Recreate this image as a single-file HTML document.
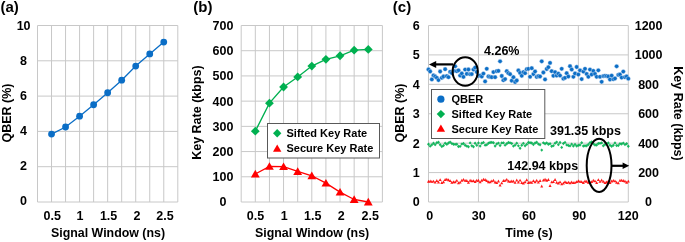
<!DOCTYPE html>
<html><head><meta charset="utf-8"><style>
html,body{margin:0;padding:0;background:#fff;}
body{width:685px;height:242px;overflow:hidden;}
svg{display:block;will-change:transform;}
svg text{font-family:"Liberation Sans",sans-serif;font-weight:bold;fill:#000;}
</style></head><body>
<svg width="685" height="242" viewBox="0 0 685 242">
<rect width="685" height="242" fill="#fff"/>
<line x1="37.50" y1="25.50" x2="37.50" y2="202.00" stroke="#c8c8c8" stroke-width="1"/>
<line x1="51.53" y1="25.50" x2="51.53" y2="202.00" stroke="#c8c8c8" stroke-width="1"/>
<line x1="65.56" y1="25.50" x2="65.56" y2="202.00" stroke="#c8c8c8" stroke-width="1"/>
<line x1="79.59" y1="25.50" x2="79.59" y2="202.00" stroke="#c8c8c8" stroke-width="1"/>
<line x1="93.62" y1="25.50" x2="93.62" y2="202.00" stroke="#c8c8c8" stroke-width="1"/>
<line x1="107.65" y1="25.50" x2="107.65" y2="202.00" stroke="#c8c8c8" stroke-width="1"/>
<line x1="121.68" y1="25.50" x2="121.68" y2="202.00" stroke="#c8c8c8" stroke-width="1"/>
<line x1="135.71" y1="25.50" x2="135.71" y2="202.00" stroke="#c8c8c8" stroke-width="1"/>
<line x1="149.74" y1="25.50" x2="149.74" y2="202.00" stroke="#c8c8c8" stroke-width="1"/>
<line x1="163.77" y1="25.50" x2="163.77" y2="202.00" stroke="#c8c8c8" stroke-width="1"/>
<line x1="177.80" y1="25.50" x2="177.80" y2="202.00" stroke="#c8c8c8" stroke-width="1"/>
<line x1="37.50" y1="202.00" x2="177.80" y2="202.00" stroke="#c8c8c8" stroke-width="1"/>
<line x1="37.50" y1="166.70" x2="177.80" y2="166.70" stroke="#c8c8c8" stroke-width="1"/>
<line x1="37.50" y1="131.40" x2="177.80" y2="131.40" stroke="#c8c8c8" stroke-width="1"/>
<line x1="37.50" y1="96.10" x2="177.80" y2="96.10" stroke="#c8c8c8" stroke-width="1"/>
<line x1="37.50" y1="60.80" x2="177.80" y2="60.80" stroke="#c8c8c8" stroke-width="1"/>
<line x1="37.50" y1="25.50" x2="177.80" y2="25.50" stroke="#c8c8c8" stroke-width="1"/>
<polyline fill="none" stroke="#0b6ec6" stroke-width="1.3" points="51.53,134.05 65.56,126.99 79.59,116.22 93.62,104.75 107.65,92.75 121.68,80.21 135.71,66.09 149.74,53.92 163.77,42.09"/>
<circle cx="51.53" cy="134.05" r="3.4" fill="#0b6ec6"/>
<circle cx="65.56" cy="126.99" r="3.4" fill="#0b6ec6"/>
<circle cx="79.59" cy="116.22" r="3.4" fill="#0b6ec6"/>
<circle cx="93.62" cy="104.75" r="3.4" fill="#0b6ec6"/>
<circle cx="107.65" cy="92.75" r="3.4" fill="#0b6ec6"/>
<circle cx="121.68" cy="80.21" r="3.4" fill="#0b6ec6"/>
<circle cx="135.71" cy="66.09" r="3.4" fill="#0b6ec6"/>
<circle cx="149.74" cy="53.92" r="3.4" fill="#0b6ec6"/>
<circle cx="163.77" cy="42.09" r="3.4" fill="#0b6ec6"/>
<text x="23.60" y="205.24" font-size="12.5" text-anchor="middle" >0</text>
<text x="23.60" y="170.20" font-size="12.5" text-anchor="middle" >2</text>
<text x="23.60" y="135.16" font-size="12.5" text-anchor="middle" >4</text>
<text x="23.60" y="100.12" font-size="12.5" text-anchor="middle" >6</text>
<text x="23.60" y="65.08" font-size="12.5" text-anchor="middle" >8</text>
<text x="23.60" y="30.04" font-size="12.5" text-anchor="middle" >10</text>
<text x="52.30" y="220.00" font-size="12.5" text-anchor="middle" >0.5</text>
<text x="80.10" y="220.00" font-size="12.5" text-anchor="middle" >1</text>
<text x="108.60" y="220.00" font-size="12.5" text-anchor="middle" >1.5</text>
<text x="137.00" y="220.00" font-size="12.5" text-anchor="middle" >2</text>
<text x="165.00" y="220.00" font-size="12.5" text-anchor="middle" >2.5</text>
<text x="108.00" y="237.30" font-size="12.4" text-anchor="middle" >Signal Window (ns)</text>
<text transform="translate(11.2,113) rotate(-90)" font-size="12.5" text-anchor="middle">QBER (%)</text>
<text x="0.45" y="11.75" font-size="15" text-anchor="start" >(a)</text>
<line x1="241.20" y1="25.50" x2="241.20" y2="202.00" stroke="#c8c8c8" stroke-width="1"/>
<line x1="255.32" y1="25.50" x2="255.32" y2="202.00" stroke="#c8c8c8" stroke-width="1"/>
<line x1="269.44" y1="25.50" x2="269.44" y2="202.00" stroke="#c8c8c8" stroke-width="1"/>
<line x1="283.56" y1="25.50" x2="283.56" y2="202.00" stroke="#c8c8c8" stroke-width="1"/>
<line x1="297.68" y1="25.50" x2="297.68" y2="202.00" stroke="#c8c8c8" stroke-width="1"/>
<line x1="311.80" y1="25.50" x2="311.80" y2="202.00" stroke="#c8c8c8" stroke-width="1"/>
<line x1="325.92" y1="25.50" x2="325.92" y2="202.00" stroke="#c8c8c8" stroke-width="1"/>
<line x1="340.04" y1="25.50" x2="340.04" y2="202.00" stroke="#c8c8c8" stroke-width="1"/>
<line x1="354.16" y1="25.50" x2="354.16" y2="202.00" stroke="#c8c8c8" stroke-width="1"/>
<line x1="368.28" y1="25.50" x2="368.28" y2="202.00" stroke="#c8c8c8" stroke-width="1"/>
<line x1="382.40" y1="25.50" x2="382.40" y2="202.00" stroke="#c8c8c8" stroke-width="1"/>
<line x1="241.20" y1="202.00" x2="382.40" y2="202.00" stroke="#c8c8c8" stroke-width="1"/>
<line x1="241.20" y1="176.79" x2="382.40" y2="176.79" stroke="#c8c8c8" stroke-width="1"/>
<line x1="241.20" y1="151.57" x2="382.40" y2="151.57" stroke="#c8c8c8" stroke-width="1"/>
<line x1="241.20" y1="126.36" x2="382.40" y2="126.36" stroke="#c8c8c8" stroke-width="1"/>
<line x1="241.20" y1="101.14" x2="382.40" y2="101.14" stroke="#c8c8c8" stroke-width="1"/>
<line x1="241.20" y1="75.93" x2="382.40" y2="75.93" stroke="#c8c8c8" stroke-width="1"/>
<line x1="241.20" y1="50.71" x2="382.40" y2="50.71" stroke="#c8c8c8" stroke-width="1"/>
<line x1="241.20" y1="25.50" x2="382.40" y2="25.50" stroke="#c8c8c8" stroke-width="1"/>
<polyline fill="none" stroke="#00b050" stroke-width="1.3" points="255.32,131.15 269.44,103.16 283.56,87.02 297.68,76.94 311.80,66.09 325.92,59.29 340.04,55.76 354.16,50.21 368.28,49.45"/>
<polygon points="255.32,126.75 259.72,131.15 255.32,135.55 250.92,131.15" fill="#00b050"/>
<polygon points="269.44,98.76 273.84,103.16 269.44,107.56 265.04,103.16" fill="#00b050"/>
<polygon points="283.56,82.62 287.96,87.02 283.56,91.42 279.16,87.02" fill="#00b050"/>
<polygon points="297.68,72.54 302.08,76.94 297.68,81.34 293.28,76.94" fill="#00b050"/>
<polygon points="311.80,61.70 316.20,66.09 311.80,70.50 307.40,66.09" fill="#00b050"/>
<polygon points="325.92,54.89 330.32,59.29 325.92,63.69 321.52,59.29" fill="#00b050"/>
<polygon points="340.04,51.36 344.44,55.76 340.04,60.16 335.64,55.76" fill="#00b050"/>
<polygon points="354.16,45.81 358.56,50.21 354.16,54.61 349.76,50.21" fill="#00b050"/>
<polygon points="368.28,45.05 372.68,49.45 368.28,53.85 363.88,49.45" fill="#00b050"/>
<polyline fill="none" stroke="#ff0000" stroke-width="1.3" points="255.32,174.01 269.44,166.45 283.56,166.70 297.68,171.49 311.80,175.78 325.92,183.09 340.04,192.17 354.16,199.48 368.28,202.00"/>
<polygon points="255.32,169.81 259.72,177.41 250.92,177.41" fill="#ff0000"/>
<polygon points="269.44,162.25 273.84,169.85 265.04,169.85" fill="#ff0000"/>
<polygon points="283.56,162.50 287.96,170.10 279.16,170.10" fill="#ff0000"/>
<polygon points="297.68,167.29 302.08,174.89 293.28,174.89" fill="#ff0000"/>
<polygon points="311.80,171.58 316.20,179.18 307.40,179.18" fill="#ff0000"/>
<polygon points="325.92,178.89 330.32,186.49 321.52,186.49" fill="#ff0000"/>
<polygon points="340.04,187.97 344.44,195.57 335.64,195.57" fill="#ff0000"/>
<polygon points="354.16,195.28 358.56,202.88 349.76,202.88" fill="#ff0000"/>
<polygon points="368.28,197.80 372.68,205.40 363.88,205.40" fill="#ff0000"/>
<text x="223.00" y="206.40" font-size="12.5" text-anchor="middle" >0</text>
<text x="223.00" y="181.19" font-size="12.5" text-anchor="middle" >100</text>
<text x="223.00" y="155.97" font-size="12.5" text-anchor="middle" >200</text>
<text x="223.00" y="130.76" font-size="12.5" text-anchor="middle" >300</text>
<text x="223.00" y="105.54" font-size="12.5" text-anchor="middle" >400</text>
<text x="223.00" y="80.33" font-size="12.5" text-anchor="middle" >500</text>
<text x="223.00" y="55.11" font-size="12.5" text-anchor="middle" >600</text>
<text x="223.00" y="29.90" font-size="12.5" text-anchor="middle" >700</text>
<text x="255.50" y="220.00" font-size="12.5" text-anchor="middle" >0.5</text>
<text x="284.30" y="220.00" font-size="12.5" text-anchor="middle" >1</text>
<text x="312.80" y="220.00" font-size="12.5" text-anchor="middle" >1.5</text>
<text x="341.30" y="220.00" font-size="12.5" text-anchor="middle" >2</text>
<text x="370.30" y="220.00" font-size="12.5" text-anchor="middle" >2.5</text>
<text x="312.10" y="237.30" font-size="12.4" text-anchor="middle" >Signal Window (ns)</text>
<text transform="translate(200.7,112.6) rotate(-90)" font-size="12.5" text-anchor="middle">Key Rate (kbps)</text>
<text x="193.35" y="11.75" font-size="15" text-anchor="start" >(b)</text>
<rect x="267.5" y="123.5" width="112" height="34.5" fill="#fff" stroke="#595959" stroke-width="1"/>
<polygon points="277.20,129.00 281.40,133.20 277.20,137.40 273.00,133.20" fill="#00b050"/>
<polygon points="277.20,144.50 281.40,151.80 273.00,151.80" fill="#ff0000"/>
<text x="286.50" y="137.10" font-size="11" text-anchor="start" >Sifted Key Rate</text>
<text x="286.50" y="152.30" font-size="11" text-anchor="start" >Secure Key Rate</text>
<line x1="428.50" y1="25.50" x2="428.50" y2="202.00" stroke="#c8c8c8" stroke-width="1"/>
<line x1="478.45" y1="25.50" x2="478.45" y2="202.00" stroke="#c8c8c8" stroke-width="1"/>
<line x1="528.40" y1="25.50" x2="528.40" y2="202.00" stroke="#c8c8c8" stroke-width="1"/>
<line x1="578.35" y1="25.50" x2="578.35" y2="202.00" stroke="#c8c8c8" stroke-width="1"/>
<line x1="628.30" y1="25.50" x2="628.30" y2="202.00" stroke="#c8c8c8" stroke-width="1"/>
<line x1="428.50" y1="202.00" x2="628.30" y2="202.00" stroke="#c8c8c8" stroke-width="1"/>
<line x1="428.50" y1="172.58" x2="628.30" y2="172.58" stroke="#c8c8c8" stroke-width="1"/>
<line x1="428.50" y1="143.17" x2="628.30" y2="143.17" stroke="#c8c8c8" stroke-width="1"/>
<line x1="428.50" y1="113.75" x2="628.30" y2="113.75" stroke="#c8c8c8" stroke-width="1"/>
<line x1="428.50" y1="84.33" x2="628.30" y2="84.33" stroke="#c8c8c8" stroke-width="1"/>
<line x1="428.50" y1="54.92" x2="628.30" y2="54.92" stroke="#c8c8c8" stroke-width="1"/>
<line x1="428.50" y1="25.50" x2="628.30" y2="25.50" stroke="#c8c8c8" stroke-width="1"/>
<text x="416.30" y="206.40" font-size="12.5" text-anchor="middle" >0</text>
<text x="648.60" y="206.40" font-size="12.5" text-anchor="middle" >0</text>
<text x="416.30" y="176.98" font-size="12.5" text-anchor="middle" >1</text>
<text x="648.60" y="176.98" font-size="12.5" text-anchor="middle" >200</text>
<text x="416.30" y="147.57" font-size="12.5" text-anchor="middle" >2</text>
<text x="648.60" y="147.57" font-size="12.5" text-anchor="middle" >400</text>
<text x="416.30" y="118.15" font-size="12.5" text-anchor="middle" >3</text>
<text x="648.60" y="118.15" font-size="12.5" text-anchor="middle" >600</text>
<text x="416.30" y="88.73" font-size="12.5" text-anchor="middle" >4</text>
<text x="648.60" y="88.73" font-size="12.5" text-anchor="middle" >800</text>
<text x="416.30" y="59.32" font-size="12.5" text-anchor="middle" >5</text>
<text x="648.60" y="59.32" font-size="12.5" text-anchor="middle" >1000</text>
<text x="416.30" y="29.90" font-size="12.5" text-anchor="middle" >6</text>
<text x="648.60" y="29.90" font-size="12.5" text-anchor="middle" >1200</text>
<text x="429.80" y="220.00" font-size="12.5" text-anchor="middle" >0</text>
<text x="478.70" y="220.00" font-size="12.5" text-anchor="middle" >30</text>
<text x="528.90" y="220.00" font-size="12.5" text-anchor="middle" >60</text>
<text x="579.30" y="220.00" font-size="12.5" text-anchor="middle" >90</text>
<text x="628.30" y="220.00" font-size="12.5" text-anchor="middle" >120</text>
<text x="529.00" y="237.30" font-size="12.4" text-anchor="middle" >Time (s)</text>
<text transform="translate(403.5,113) rotate(-90)" font-size="12.5" text-anchor="middle">QBER (%)</text>
<text transform="translate(673.5,113.5) rotate(90)" font-size="12.5" text-anchor="middle">Key Rate (kbps)</text>
<text x="392.85" y="11.75" font-size="15" text-anchor="start" >(c)</text>
<polygon points="428.50,142.50 430.00,144.20 428.50,145.90 427.00,144.20" fill="#00b050" fill-opacity="0.9"/>
<polygon points="430.17,144.43 431.67,146.13 430.17,147.83 428.67,146.13" fill="#00b050" fill-opacity="0.9"/>
<polygon points="431.83,143.17 433.33,144.87 431.83,146.57 430.33,144.87" fill="#00b050" fill-opacity="0.9"/>
<polygon points="433.50,141.49 435.00,143.19 433.50,144.89 432.00,143.19" fill="#00b050" fill-opacity="0.9"/>
<polygon points="435.16,142.94 436.66,144.64 435.16,146.34 433.66,144.64" fill="#00b050" fill-opacity="0.9"/>
<polygon points="436.82,141.06 438.32,142.76 436.82,144.46 435.32,142.76" fill="#00b050" fill-opacity="0.9"/>
<polygon points="438.49,140.57 439.99,142.27 438.49,143.97 436.99,142.27" fill="#00b050" fill-opacity="0.9"/>
<polygon points="440.15,142.98 441.65,144.68 440.15,146.38 438.65,144.68" fill="#00b050" fill-opacity="0.9"/>
<polygon points="441.82,144.80 443.32,146.50 441.82,148.20 440.32,146.50" fill="#00b050" fill-opacity="0.9"/>
<polygon points="443.49,143.87 444.99,145.57 443.49,147.27 441.99,145.57" fill="#00b050" fill-opacity="0.9"/>
<polygon points="445.15,141.55 446.65,143.25 445.15,144.95 443.65,143.25" fill="#00b050" fill-opacity="0.9"/>
<polygon points="446.81,142.53 448.31,144.23 446.81,145.93 445.31,144.23" fill="#00b050" fill-opacity="0.9"/>
<polygon points="448.48,141.36 449.98,143.06 448.48,144.76 446.98,143.06" fill="#00b050" fill-opacity="0.9"/>
<polygon points="450.14,140.39 451.64,142.09 450.14,143.79 448.64,142.09" fill="#00b050" fill-opacity="0.9"/>
<polygon points="451.81,141.87 453.31,143.57 451.81,145.27 450.31,143.57" fill="#00b050" fill-opacity="0.9"/>
<polygon points="453.47,142.57 454.97,144.27 453.47,145.97 451.97,144.27" fill="#00b050" fill-opacity="0.9"/>
<polygon points="455.14,142.67 456.64,144.37 455.14,146.07 453.64,144.37" fill="#00b050" fill-opacity="0.9"/>
<polygon points="456.81,142.51 458.31,144.21 456.81,145.91 455.31,144.21" fill="#00b050" fill-opacity="0.9"/>
<polygon points="458.47,144.74 459.97,146.44 458.47,148.14 456.97,146.44" fill="#00b050" fill-opacity="0.9"/>
<polygon points="460.13,144.64 461.63,146.34 460.13,148.04 458.63,146.34" fill="#00b050" fill-opacity="0.9"/>
<polygon points="461.80,142.41 463.30,144.11 461.80,145.81 460.30,144.11" fill="#00b050" fill-opacity="0.9"/>
<polygon points="463.46,141.74 464.96,143.44 463.46,145.14 461.96,143.44" fill="#00b050" fill-opacity="0.9"/>
<polygon points="465.13,143.58 466.63,145.28 465.13,146.98 463.63,145.28" fill="#00b050" fill-opacity="0.9"/>
<polygon points="466.79,144.38 468.29,146.08 466.79,147.78 465.29,146.08" fill="#00b050" fill-opacity="0.9"/>
<polygon points="468.46,145.04 469.96,146.74 468.46,148.44 466.96,146.74" fill="#00b050" fill-opacity="0.9"/>
<polygon points="470.12,141.19 471.62,142.89 470.12,144.59 468.62,142.89" fill="#00b050" fill-opacity="0.9"/>
<polygon points="471.79,144.05 473.29,145.75 471.79,147.45 470.29,145.75" fill="#00b050" fill-opacity="0.9"/>
<polygon points="473.45,145.05 474.95,146.75 473.45,148.45 471.95,146.75" fill="#00b050" fill-opacity="0.9"/>
<polygon points="475.12,141.50 476.62,143.20 475.12,144.90 473.62,143.20" fill="#00b050" fill-opacity="0.9"/>
<polygon points="476.78,143.57 478.28,145.27 476.78,146.97 475.28,145.27" fill="#00b050" fill-opacity="0.9"/>
<polygon points="478.45,141.18 479.95,142.88 478.45,144.58 476.95,142.88" fill="#00b050" fill-opacity="0.9"/>
<polygon points="480.12,144.27 481.62,145.97 480.12,147.67 478.62,145.97" fill="#00b050" fill-opacity="0.9"/>
<polygon points="481.78,141.49 483.28,143.19 481.78,144.89 480.28,143.19" fill="#00b050" fill-opacity="0.9"/>
<polygon points="483.44,140.72 484.94,142.42 483.44,144.12 481.94,142.42" fill="#00b050" fill-opacity="0.9"/>
<polygon points="485.11,143.45 486.61,145.15 485.11,146.85 483.61,145.15" fill="#00b050" fill-opacity="0.9"/>
<polygon points="486.77,143.14 488.27,144.84 486.77,146.54 485.27,144.84" fill="#00b050" fill-opacity="0.9"/>
<polygon points="488.44,141.51 489.94,143.21 488.44,144.91 486.94,143.21" fill="#00b050" fill-opacity="0.9"/>
<polygon points="490.11,140.85 491.61,142.55 490.11,144.25 488.61,142.55" fill="#00b050" fill-opacity="0.9"/>
<polygon points="491.77,140.63 493.27,142.33 491.77,144.03 490.27,142.33" fill="#00b050" fill-opacity="0.9"/>
<polygon points="493.44,140.98 494.94,142.68 493.44,144.38 491.94,142.68" fill="#00b050" fill-opacity="0.9"/>
<polygon points="495.10,144.25 496.60,145.95 495.10,147.65 493.60,145.95" fill="#00b050" fill-opacity="0.9"/>
<polygon points="496.76,142.26 498.26,143.96 496.76,145.66 495.26,143.96" fill="#00b050" fill-opacity="0.9"/>
<polygon points="498.43,141.38 499.93,143.08 498.43,144.78 496.93,143.08" fill="#00b050" fill-opacity="0.9"/>
<polygon points="500.09,143.86 501.59,145.56 500.09,147.26 498.59,145.56" fill="#00b050" fill-opacity="0.9"/>
<polygon points="501.76,141.31 503.26,143.01 501.76,144.71 500.26,143.01" fill="#00b050" fill-opacity="0.9"/>
<polygon points="503.42,141.15 504.92,142.85 503.42,144.55 501.92,142.85" fill="#00b050" fill-opacity="0.9"/>
<polygon points="505.09,143.46 506.59,145.16 505.09,146.86 503.59,145.16" fill="#00b050" fill-opacity="0.9"/>
<polygon points="506.75,142.03 508.25,143.73 506.75,145.43 505.25,143.73" fill="#00b050" fill-opacity="0.9"/>
<polygon points="508.42,140.81 509.92,142.51 508.42,144.21 506.92,142.51" fill="#00b050" fill-opacity="0.9"/>
<polygon points="510.08,141.15 511.58,142.85 510.08,144.55 508.58,142.85" fill="#00b050" fill-opacity="0.9"/>
<polygon points="511.75,141.77 513.25,143.47 511.75,145.17 510.25,143.47" fill="#00b050" fill-opacity="0.9"/>
<polygon points="513.41,144.40 514.91,146.10 513.41,147.80 511.91,146.10" fill="#00b050" fill-opacity="0.9"/>
<polygon points="515.08,143.44 516.58,145.14 515.08,146.84 513.58,145.14" fill="#00b050" fill-opacity="0.9"/>
<polygon points="516.75,141.55 518.25,143.25 516.75,144.95 515.25,143.25" fill="#00b050" fill-opacity="0.9"/>
<polygon points="518.41,144.13 519.91,145.83 518.41,147.53 516.91,145.83" fill="#00b050" fill-opacity="0.9"/>
<polygon points="520.08,146.60 521.58,148.30 520.08,150.00 518.58,148.30" fill="#00b050" fill-opacity="0.9"/>
<polygon points="521.74,143.53 523.24,145.23 521.74,146.93 520.24,145.23" fill="#00b050" fill-opacity="0.9"/>
<polygon points="523.40,141.63 524.90,143.33 523.40,145.03 521.90,143.33" fill="#00b050" fill-opacity="0.9"/>
<polygon points="525.07,144.04 526.57,145.74 525.07,147.44 523.57,145.74" fill="#00b050" fill-opacity="0.9"/>
<polygon points="526.74,142.70 528.24,144.40 526.74,146.10 525.24,144.40" fill="#00b050" fill-opacity="0.9"/>
<polygon points="528.40,140.76 529.90,142.46 528.40,144.16 526.90,142.46" fill="#00b050" fill-opacity="0.9"/>
<polygon points="530.06,141.12 531.56,142.82 530.06,144.52 528.56,142.82" fill="#00b050" fill-opacity="0.9"/>
<polygon points="531.73,141.28 533.23,142.98 531.73,144.68 530.23,142.98" fill="#00b050" fill-opacity="0.9"/>
<polygon points="533.39,142.75 534.89,144.45 533.39,146.15 531.89,144.45" fill="#00b050" fill-opacity="0.9"/>
<polygon points="535.06,141.35 536.56,143.05 535.06,144.75 533.56,143.05" fill="#00b050" fill-opacity="0.9"/>
<polygon points="536.72,140.55 538.22,142.25 536.72,143.95 535.22,142.25" fill="#00b050" fill-opacity="0.9"/>
<polygon points="538.39,142.41 539.89,144.11 538.39,145.81 536.89,144.11" fill="#00b050" fill-opacity="0.9"/>
<polygon points="540.05,143.11 541.55,144.81 540.05,146.51 538.55,144.81" fill="#00b050" fill-opacity="0.9"/>
<polygon points="541.72,148.40 543.22,150.10 541.72,151.80 540.22,150.10" fill="#00b050" fill-opacity="0.9"/>
<polygon points="543.38,141.13 544.88,142.83 543.38,144.53 541.88,142.83" fill="#00b050" fill-opacity="0.9"/>
<polygon points="545.05,142.08 546.55,143.78 545.05,145.48 543.55,143.78" fill="#00b050" fill-opacity="0.9"/>
<polygon points="546.71,141.19 548.21,142.89 546.71,144.59 545.21,142.89" fill="#00b050" fill-opacity="0.9"/>
<polygon points="548.38,142.62 549.88,144.32 548.38,146.02 546.88,144.32" fill="#00b050" fill-opacity="0.9"/>
<polygon points="550.04,142.10 551.54,143.80 550.04,145.50 548.54,143.80" fill="#00b050" fill-opacity="0.9"/>
<polygon points="551.71,144.57 553.21,146.27 551.71,147.97 550.21,146.27" fill="#00b050" fill-opacity="0.9"/>
<polygon points="553.38,143.97 554.88,145.67 553.38,147.37 551.88,145.67" fill="#00b050" fill-opacity="0.9"/>
<polygon points="555.04,141.51 556.54,143.21 555.04,144.91 553.54,143.21" fill="#00b050" fill-opacity="0.9"/>
<polygon points="556.70,140.38 558.20,142.08 556.70,143.78 555.20,142.08" fill="#00b050" fill-opacity="0.9"/>
<polygon points="558.37,142.96 559.87,144.66 558.37,146.36 556.87,144.66" fill="#00b050" fill-opacity="0.9"/>
<polygon points="560.03,140.76 561.53,142.46 560.03,144.16 558.53,142.46" fill="#00b050" fill-opacity="0.9"/>
<polygon points="561.70,145.70 563.20,147.40 561.70,149.10 560.20,147.40" fill="#00b050" fill-opacity="0.9"/>
<polygon points="563.37,141.80 564.87,143.50 563.37,145.20 561.87,143.50" fill="#00b050" fill-opacity="0.9"/>
<polygon points="565.03,140.69 566.53,142.39 565.03,144.09 563.53,142.39" fill="#00b050" fill-opacity="0.9"/>
<polygon points="566.69,143.19 568.19,144.89 566.69,146.59 565.19,144.89" fill="#00b050" fill-opacity="0.9"/>
<polygon points="568.36,143.82 569.86,145.52 568.36,147.22 566.86,145.52" fill="#00b050" fill-opacity="0.9"/>
<polygon points="570.02,144.21 571.52,145.91 570.02,147.61 568.52,145.91" fill="#00b050" fill-opacity="0.9"/>
<polygon points="571.69,142.46 573.19,144.16 571.69,145.86 570.19,144.16" fill="#00b050" fill-opacity="0.9"/>
<polygon points="573.36,144.32 574.86,146.02 573.36,147.72 571.86,146.02" fill="#00b050" fill-opacity="0.9"/>
<polygon points="575.02,142.76 576.52,144.46 575.02,146.16 573.52,144.46" fill="#00b050" fill-opacity="0.9"/>
<polygon points="576.68,144.24 578.18,145.94 576.68,147.64 575.18,145.94" fill="#00b050" fill-opacity="0.9"/>
<polygon points="578.35,143.61 579.85,145.31 578.35,147.01 576.85,145.31" fill="#00b050" fill-opacity="0.9"/>
<polygon points="580.01,143.27 581.51,144.97 580.01,146.67 578.51,144.97" fill="#00b050" fill-opacity="0.9"/>
<polygon points="581.68,141.08 583.18,142.78 581.68,144.48 580.18,142.78" fill="#00b050" fill-opacity="0.9"/>
<polygon points="583.34,144.37 584.84,146.07 583.34,147.77 581.84,146.07" fill="#00b050" fill-opacity="0.9"/>
<polygon points="585.01,144.08 586.51,145.78 585.01,147.48 583.51,145.78" fill="#00b050" fill-opacity="0.9"/>
<polygon points="586.67,144.03 588.17,145.73 586.67,147.43 585.17,145.73" fill="#00b050" fill-opacity="0.9"/>
<polygon points="588.34,142.78 589.84,144.48 588.34,146.18 586.84,144.48" fill="#00b050" fill-opacity="0.9"/>
<polygon points="590.00,140.97 591.50,142.67 590.00,144.37 588.50,142.67" fill="#00b050" fill-opacity="0.9"/>
<polygon points="591.67,140.29 593.17,141.99 591.67,143.69 590.17,141.99" fill="#00b050" fill-opacity="0.9"/>
<polygon points="593.34,142.02 594.84,143.72 593.34,145.42 591.84,143.72" fill="#00b050" fill-opacity="0.9"/>
<polygon points="595.00,143.36 596.50,145.06 595.00,146.76 593.50,145.06" fill="#00b050" fill-opacity="0.9"/>
<polygon points="596.66,143.35 598.16,145.05 596.66,146.75 595.16,145.05" fill="#00b050" fill-opacity="0.9"/>
<polygon points="598.33,141.84 599.83,143.54 598.33,145.24 596.83,143.54" fill="#00b050" fill-opacity="0.9"/>
<polygon points="599.99,141.65 601.49,143.35 599.99,145.05 598.49,143.35" fill="#00b050" fill-opacity="0.9"/>
<polygon points="601.66,141.19 603.16,142.89 601.66,144.59 600.16,142.89" fill="#00b050" fill-opacity="0.9"/>
<polygon points="603.32,144.03 604.82,145.73 603.32,147.43 601.82,145.73" fill="#00b050" fill-opacity="0.9"/>
<polygon points="604.99,142.79 606.49,144.49 604.99,146.19 603.49,144.49" fill="#00b050" fill-opacity="0.9"/>
<polygon points="606.65,142.00 608.15,143.70 606.65,145.40 605.15,143.70" fill="#00b050" fill-opacity="0.9"/>
<polygon points="608.32,141.26 609.82,142.96 608.32,144.66 606.82,142.96" fill="#00b050" fill-opacity="0.9"/>
<polygon points="609.98,143.62 611.48,145.32 609.98,147.02 608.48,145.32" fill="#00b050" fill-opacity="0.9"/>
<polygon points="611.65,144.53 613.15,146.23 611.65,147.93 610.15,146.23" fill="#00b050" fill-opacity="0.9"/>
<polygon points="613.31,143.51 614.81,145.21 613.31,146.91 611.81,145.21" fill="#00b050" fill-opacity="0.9"/>
<polygon points="614.98,141.37 616.48,143.07 614.98,144.77 613.48,143.07" fill="#00b050" fill-opacity="0.9"/>
<polygon points="616.64,143.78 618.14,145.48 616.64,147.18 615.14,145.48" fill="#00b050" fill-opacity="0.9"/>
<polygon points="618.31,143.86 619.81,145.56 618.31,147.26 616.81,145.56" fill="#00b050" fill-opacity="0.9"/>
<polygon points="619.97,142.05 621.47,143.75 619.97,145.45 618.47,143.75" fill="#00b050" fill-opacity="0.9"/>
<polygon points="621.64,142.33 623.14,144.03 621.64,145.73 620.14,144.03" fill="#00b050" fill-opacity="0.9"/>
<polygon points="623.30,141.41 624.80,143.11 623.30,144.81 621.80,143.11" fill="#00b050" fill-opacity="0.9"/>
<polygon points="624.97,142.90 626.47,144.60 624.97,146.30 623.47,144.60" fill="#00b050" fill-opacity="0.9"/>
<polygon points="626.63,141.98 628.13,143.68 626.63,145.38 625.13,143.68" fill="#00b050" fill-opacity="0.9"/>
<polygon points="628.30,144.54 629.80,146.24 628.30,147.94 626.80,146.24" fill="#00b050" fill-opacity="0.9"/>
<polygon points="428.50,179.82 430.00,182.72 427.00,182.72" fill="#ff0000" fill-opacity="0.9"/>
<polygon points="430.17,179.52 431.67,182.42 428.67,182.42" fill="#ff0000" fill-opacity="0.9"/>
<polygon points="431.83,179.90 433.33,182.80 430.33,182.80" fill="#ff0000" fill-opacity="0.9"/>
<polygon points="433.50,179.70 435.00,182.60 432.00,182.60" fill="#ff0000" fill-opacity="0.9"/>
<polygon points="435.16,180.68 436.66,183.58 433.66,183.58" fill="#ff0000" fill-opacity="0.9"/>
<polygon points="436.82,179.11 438.32,182.01 435.32,182.01" fill="#ff0000" fill-opacity="0.9"/>
<polygon points="438.49,180.62 439.99,183.52 436.99,183.52" fill="#ff0000" fill-opacity="0.9"/>
<polygon points="440.15,178.15 441.65,181.05 438.65,181.05" fill="#ff0000" fill-opacity="0.9"/>
<polygon points="441.82,180.98 443.32,183.88 440.32,183.88" fill="#ff0000" fill-opacity="0.9"/>
<polygon points="443.49,180.29 444.99,183.19 441.99,183.19" fill="#ff0000" fill-opacity="0.9"/>
<polygon points="445.15,177.99 446.65,180.89 443.65,180.89" fill="#ff0000" fill-opacity="0.9"/>
<polygon points="446.81,177.69 448.31,180.59 445.31,180.59" fill="#ff0000" fill-opacity="0.9"/>
<polygon points="448.48,178.29 449.98,181.19 446.98,181.19" fill="#ff0000" fill-opacity="0.9"/>
<polygon points="450.14,179.21 451.64,182.11 448.64,182.11" fill="#ff0000" fill-opacity="0.9"/>
<polygon points="451.81,180.75 453.31,183.65 450.31,183.65" fill="#ff0000" fill-opacity="0.9"/>
<polygon points="453.47,180.34 454.97,183.24 451.97,183.24" fill="#ff0000" fill-opacity="0.9"/>
<polygon points="455.14,180.33 456.64,183.23 453.64,183.23" fill="#ff0000" fill-opacity="0.9"/>
<polygon points="456.81,178.95 458.31,181.85 455.31,181.85" fill="#ff0000" fill-opacity="0.9"/>
<polygon points="458.47,181.25 459.97,184.15 456.97,184.15" fill="#ff0000" fill-opacity="0.9"/>
<polygon points="460.13,180.68 461.63,183.58 458.63,183.58" fill="#ff0000" fill-opacity="0.9"/>
<polygon points="461.80,178.84 463.30,181.74 460.30,181.74" fill="#ff0000" fill-opacity="0.9"/>
<polygon points="463.46,177.90 464.96,180.80 461.96,180.80" fill="#ff0000" fill-opacity="0.9"/>
<polygon points="465.13,178.90 466.63,181.80 463.63,181.80" fill="#ff0000" fill-opacity="0.9"/>
<polygon points="466.79,179.05 468.29,181.95 465.29,181.95" fill="#ff0000" fill-opacity="0.9"/>
<polygon points="468.46,180.74 469.96,183.64 466.96,183.64" fill="#ff0000" fill-opacity="0.9"/>
<polygon points="470.12,178.78 471.62,181.68 468.62,181.68" fill="#ff0000" fill-opacity="0.9"/>
<polygon points="471.79,179.33 473.29,182.23 470.29,182.23" fill="#ff0000" fill-opacity="0.9"/>
<polygon points="473.45,179.18 474.95,182.08 471.95,182.08" fill="#ff0000" fill-opacity="0.9"/>
<polygon points="475.12,179.98 476.62,182.88 473.62,182.88" fill="#ff0000" fill-opacity="0.9"/>
<polygon points="476.78,178.85 478.28,181.75 475.28,181.75" fill="#ff0000" fill-opacity="0.9"/>
<polygon points="478.45,178.85 479.95,181.75 476.95,181.75" fill="#ff0000" fill-opacity="0.9"/>
<polygon points="480.12,180.38 481.62,183.28 478.62,183.28" fill="#ff0000" fill-opacity="0.9"/>
<polygon points="481.78,178.84 483.28,181.74 480.28,181.74" fill="#ff0000" fill-opacity="0.9"/>
<polygon points="483.44,177.86 484.94,180.76 481.94,180.76" fill="#ff0000" fill-opacity="0.9"/>
<polygon points="485.11,178.09 486.61,180.99 483.61,180.99" fill="#ff0000" fill-opacity="0.9"/>
<polygon points="486.77,179.11 488.27,182.01 485.27,182.01" fill="#ff0000" fill-opacity="0.9"/>
<polygon points="488.44,180.34 489.94,183.24 486.94,183.24" fill="#ff0000" fill-opacity="0.9"/>
<polygon points="490.11,180.26 491.61,183.16 488.61,183.16" fill="#ff0000" fill-opacity="0.9"/>
<polygon points="491.77,179.45 493.27,182.35 490.27,182.35" fill="#ff0000" fill-opacity="0.9"/>
<polygon points="493.44,178.74 494.94,181.64 491.94,181.64" fill="#ff0000" fill-opacity="0.9"/>
<polygon points="495.10,180.52 496.60,183.42 493.60,183.42" fill="#ff0000" fill-opacity="0.9"/>
<polygon points="496.76,181.17 498.26,184.07 495.26,184.07" fill="#ff0000" fill-opacity="0.9"/>
<polygon points="498.43,179.53 499.93,182.43 496.93,182.43" fill="#ff0000" fill-opacity="0.9"/>
<polygon points="500.09,183.60 501.59,186.50 498.59,186.50" fill="#ff0000" fill-opacity="0.9"/>
<polygon points="501.76,181.46 503.26,184.36 500.26,184.36" fill="#ff0000" fill-opacity="0.9"/>
<polygon points="503.42,179.10 504.92,182.00 501.92,182.00" fill="#ff0000" fill-opacity="0.9"/>
<polygon points="505.09,178.88 506.59,181.78 503.59,181.78" fill="#ff0000" fill-opacity="0.9"/>
<polygon points="506.75,177.92 508.25,180.82 505.25,180.82" fill="#ff0000" fill-opacity="0.9"/>
<polygon points="508.42,179.56 509.92,182.46 506.92,182.46" fill="#ff0000" fill-opacity="0.9"/>
<polygon points="510.08,179.96 511.58,182.86 508.58,182.86" fill="#ff0000" fill-opacity="0.9"/>
<polygon points="511.75,179.50 513.25,182.40 510.25,182.40" fill="#ff0000" fill-opacity="0.9"/>
<polygon points="513.41,179.52 514.91,182.42 511.91,182.42" fill="#ff0000" fill-opacity="0.9"/>
<polygon points="515.08,180.90 516.58,183.80 513.58,183.80" fill="#ff0000" fill-opacity="0.9"/>
<polygon points="516.75,178.62 518.25,181.52 515.25,181.52" fill="#ff0000" fill-opacity="0.9"/>
<polygon points="518.41,180.55 519.91,183.45 516.91,183.45" fill="#ff0000" fill-opacity="0.9"/>
<polygon points="520.08,178.67 521.58,181.57 518.58,181.57" fill="#ff0000" fill-opacity="0.9"/>
<polygon points="521.74,181.00 523.24,183.90 520.24,183.90" fill="#ff0000" fill-opacity="0.9"/>
<polygon points="523.40,181.50 524.90,184.40 521.90,184.40" fill="#ff0000" fill-opacity="0.9"/>
<polygon points="525.07,180.35 526.57,183.25 523.57,183.25" fill="#ff0000" fill-opacity="0.9"/>
<polygon points="526.74,178.32 528.24,181.22 525.24,181.22" fill="#ff0000" fill-opacity="0.9"/>
<polygon points="528.40,181.01 529.90,183.91 526.90,183.91" fill="#ff0000" fill-opacity="0.9"/>
<polygon points="530.06,180.62 531.56,183.52 528.56,183.52" fill="#ff0000" fill-opacity="0.9"/>
<polygon points="531.73,180.97 533.23,183.87 530.23,183.87" fill="#ff0000" fill-opacity="0.9"/>
<polygon points="533.39,179.13 534.89,182.03 531.89,182.03" fill="#ff0000" fill-opacity="0.9"/>
<polygon points="535.06,180.30 536.56,183.20 533.56,183.20" fill="#ff0000" fill-opacity="0.9"/>
<polygon points="536.72,178.76 538.22,181.66 535.22,181.66" fill="#ff0000" fill-opacity="0.9"/>
<polygon points="538.39,180.70 539.89,183.60 536.89,183.60" fill="#ff0000" fill-opacity="0.9"/>
<polygon points="540.05,179.03 541.55,181.93 538.55,181.93" fill="#ff0000" fill-opacity="0.9"/>
<polygon points="541.72,184.50 543.22,187.40 540.22,187.40" fill="#ff0000" fill-opacity="0.9"/>
<polygon points="543.38,178.53 544.88,181.43 541.88,181.43" fill="#ff0000" fill-opacity="0.9"/>
<polygon points="545.05,177.80 546.55,180.70 543.55,180.70" fill="#ff0000" fill-opacity="0.9"/>
<polygon points="546.71,178.77 548.21,181.67 545.21,181.67" fill="#ff0000" fill-opacity="0.9"/>
<polygon points="548.38,178.11 549.88,181.01 546.88,181.01" fill="#ff0000" fill-opacity="0.9"/>
<polygon points="550.04,184.00 551.54,186.90 548.54,186.90" fill="#ff0000" fill-opacity="0.9"/>
<polygon points="551.71,180.39 553.21,183.29 550.21,183.29" fill="#ff0000" fill-opacity="0.9"/>
<polygon points="553.38,180.06 554.88,182.96 551.88,182.96" fill="#ff0000" fill-opacity="0.9"/>
<polygon points="555.04,178.02 556.54,180.92 553.54,180.92" fill="#ff0000" fill-opacity="0.9"/>
<polygon points="556.70,180.76 558.20,183.66 555.20,183.66" fill="#ff0000" fill-opacity="0.9"/>
<polygon points="558.37,181.50 559.87,184.40 556.87,184.40" fill="#ff0000" fill-opacity="0.9"/>
<polygon points="560.03,180.47 561.53,183.37 558.53,183.37" fill="#ff0000" fill-opacity="0.9"/>
<polygon points="561.70,182.40 563.20,185.30 560.20,185.30" fill="#ff0000" fill-opacity="0.9"/>
<polygon points="563.37,181.60 564.87,184.50 561.87,184.50" fill="#ff0000" fill-opacity="0.9"/>
<polygon points="565.03,180.17 566.53,183.07 563.53,183.07" fill="#ff0000" fill-opacity="0.9"/>
<polygon points="566.69,181.15 568.19,184.05 565.19,184.05" fill="#ff0000" fill-opacity="0.9"/>
<polygon points="568.36,180.64 569.86,183.54 566.86,183.54" fill="#ff0000" fill-opacity="0.9"/>
<polygon points="570.02,181.30 571.52,184.20 568.52,184.20" fill="#ff0000" fill-opacity="0.9"/>
<polygon points="571.69,180.61 573.19,183.51 570.19,183.51" fill="#ff0000" fill-opacity="0.9"/>
<polygon points="573.36,181.14 574.86,184.04 571.86,184.04" fill="#ff0000" fill-opacity="0.9"/>
<polygon points="575.02,180.95 576.52,183.85 573.52,183.85" fill="#ff0000" fill-opacity="0.9"/>
<polygon points="576.68,180.13 578.18,183.03 575.18,183.03" fill="#ff0000" fill-opacity="0.9"/>
<polygon points="578.35,179.28 579.85,182.18 576.85,182.18" fill="#ff0000" fill-opacity="0.9"/>
<polygon points="580.01,179.93 581.51,182.83 578.51,182.83" fill="#ff0000" fill-opacity="0.9"/>
<polygon points="581.68,180.17 583.18,183.07 580.18,183.07" fill="#ff0000" fill-opacity="0.9"/>
<polygon points="583.34,181.08 584.84,183.98 581.84,183.98" fill="#ff0000" fill-opacity="0.9"/>
<polygon points="585.01,179.49 586.51,182.39 583.51,182.39" fill="#ff0000" fill-opacity="0.9"/>
<polygon points="586.67,179.87 588.17,182.77 585.17,182.77" fill="#ff0000" fill-opacity="0.9"/>
<polygon points="588.34,180.87 589.84,183.77 586.84,183.77" fill="#ff0000" fill-opacity="0.9"/>
<polygon points="590.00,180.76 591.50,183.66 588.50,183.66" fill="#ff0000" fill-opacity="0.9"/>
<polygon points="591.67,180.20 593.17,183.10 590.17,183.10" fill="#ff0000" fill-opacity="0.9"/>
<polygon points="593.34,178.75 594.84,181.65 591.84,181.65" fill="#ff0000" fill-opacity="0.9"/>
<polygon points="595.00,179.42 596.50,182.32 593.50,182.32" fill="#ff0000" fill-opacity="0.9"/>
<polygon points="596.66,181.08 598.16,183.98 595.16,183.98" fill="#ff0000" fill-opacity="0.9"/>
<polygon points="598.33,178.14 599.83,181.04 596.83,181.04" fill="#ff0000" fill-opacity="0.9"/>
<polygon points="599.99,179.95 601.49,182.85 598.49,182.85" fill="#ff0000" fill-opacity="0.9"/>
<polygon points="601.66,178.48 603.16,181.38 600.16,181.38" fill="#ff0000" fill-opacity="0.9"/>
<polygon points="603.32,179.95 604.82,182.85 601.82,182.85" fill="#ff0000" fill-opacity="0.9"/>
<polygon points="604.99,181.08 606.49,183.98 603.49,183.98" fill="#ff0000" fill-opacity="0.9"/>
<polygon points="606.65,180.49 608.15,183.39 605.15,183.39" fill="#ff0000" fill-opacity="0.9"/>
<polygon points="608.32,179.53 609.82,182.43 606.82,182.43" fill="#ff0000" fill-opacity="0.9"/>
<polygon points="609.98,181.08 611.48,183.98 608.48,183.98" fill="#ff0000" fill-opacity="0.9"/>
<polygon points="611.65,179.48 613.15,182.38 610.15,182.38" fill="#ff0000" fill-opacity="0.9"/>
<polygon points="613.31,178.92 614.81,181.82 611.81,181.82" fill="#ff0000" fill-opacity="0.9"/>
<polygon points="614.98,179.45 616.48,182.35 613.48,182.35" fill="#ff0000" fill-opacity="0.9"/>
<polygon points="616.64,180.83 618.14,183.73 615.14,183.73" fill="#ff0000" fill-opacity="0.9"/>
<polygon points="618.31,181.47 619.81,184.37 616.81,184.37" fill="#ff0000" fill-opacity="0.9"/>
<polygon points="619.97,178.78 621.47,181.68 618.47,181.68" fill="#ff0000" fill-opacity="0.9"/>
<polygon points="621.64,178.63 623.14,181.53 620.14,181.53" fill="#ff0000" fill-opacity="0.9"/>
<polygon points="623.30,179.10 624.80,182.00 621.80,182.00" fill="#ff0000" fill-opacity="0.9"/>
<polygon points="624.97,179.48 626.47,182.38 623.47,182.38" fill="#ff0000" fill-opacity="0.9"/>
<polygon points="626.63,180.80 628.13,183.70 625.13,183.70" fill="#ff0000" fill-opacity="0.9"/>
<polygon points="628.30,179.67 629.80,182.57 626.80,182.57" fill="#ff0000" fill-opacity="0.9"/>
<circle cx="428.50" cy="69.50" r="2.15" fill="#0b6ec6" stroke="#cfe0f3" stroke-width="0.45"/>
<circle cx="430.17" cy="71.50" r="2.15" fill="#0b6ec6" stroke="#cfe0f3" stroke-width="0.45"/>
<circle cx="431.83" cy="79.40" r="2.15" fill="#0b6ec6" stroke="#cfe0f3" stroke-width="0.45"/>
<circle cx="433.50" cy="75.40" r="2.15" fill="#0b6ec6" stroke="#cfe0f3" stroke-width="0.45"/>
<circle cx="435.16" cy="76.50" r="2.15" fill="#0b6ec6" stroke="#cfe0f3" stroke-width="0.45"/>
<circle cx="436.82" cy="77.80" r="2.15" fill="#0b6ec6" stroke="#cfe0f3" stroke-width="0.45"/>
<circle cx="438.49" cy="80.10" r="2.15" fill="#0b6ec6" stroke="#cfe0f3" stroke-width="0.45"/>
<circle cx="440.15" cy="71.50" r="2.15" fill="#0b6ec6" stroke="#cfe0f3" stroke-width="0.45"/>
<circle cx="441.82" cy="77.80" r="2.15" fill="#0b6ec6" stroke="#cfe0f3" stroke-width="0.45"/>
<circle cx="443.49" cy="76.50" r="2.15" fill="#0b6ec6" stroke="#cfe0f3" stroke-width="0.45"/>
<circle cx="445.15" cy="69.20" r="2.15" fill="#0b6ec6" stroke="#cfe0f3" stroke-width="0.45"/>
<circle cx="446.81" cy="76.10" r="2.15" fill="#0b6ec6" stroke="#cfe0f3" stroke-width="0.45"/>
<circle cx="448.48" cy="77.20" r="2.15" fill="#0b6ec6" stroke="#cfe0f3" stroke-width="0.45"/>
<circle cx="450.14" cy="71.90" r="2.15" fill="#0b6ec6" stroke="#cfe0f3" stroke-width="0.45"/>
<circle cx="451.81" cy="73.00" r="2.15" fill="#0b6ec6" stroke="#cfe0f3" stroke-width="0.45"/>
<circle cx="453.47" cy="70.90" r="2.15" fill="#0b6ec6" stroke="#cfe0f3" stroke-width="0.45"/>
<circle cx="455.14" cy="66.30" r="2.15" fill="#0b6ec6" stroke="#cfe0f3" stroke-width="0.45"/>
<circle cx="456.81" cy="71.20" r="2.15" fill="#0b6ec6" stroke="#cfe0f3" stroke-width="0.45"/>
<circle cx="458.47" cy="70.30" r="2.15" fill="#0b6ec6" stroke="#cfe0f3" stroke-width="0.45"/>
<circle cx="460.13" cy="75.60" r="2.15" fill="#0b6ec6" stroke="#cfe0f3" stroke-width="0.45"/>
<circle cx="461.80" cy="73.50" r="2.15" fill="#0b6ec6" stroke="#cfe0f3" stroke-width="0.45"/>
<circle cx="463.46" cy="76.90" r="2.15" fill="#0b6ec6" stroke="#cfe0f3" stroke-width="0.45"/>
<circle cx="465.13" cy="69.60" r="2.15" fill="#0b6ec6" stroke="#cfe0f3" stroke-width="0.45"/>
<circle cx="466.79" cy="73.90" r="2.15" fill="#0b6ec6" stroke="#cfe0f3" stroke-width="0.45"/>
<circle cx="468.46" cy="69.50" r="2.15" fill="#0b6ec6" stroke="#cfe0f3" stroke-width="0.45"/>
<circle cx="470.12" cy="74.20" r="2.15" fill="#0b6ec6" stroke="#cfe0f3" stroke-width="0.45"/>
<circle cx="471.79" cy="74.10" r="2.15" fill="#0b6ec6" stroke="#cfe0f3" stroke-width="0.45"/>
<circle cx="473.45" cy="69.60" r="2.15" fill="#0b6ec6" stroke="#cfe0f3" stroke-width="0.45"/>
<circle cx="475.12" cy="67.60" r="2.15" fill="#0b6ec6" stroke="#cfe0f3" stroke-width="0.45"/>
<circle cx="476.78" cy="72.00" r="2.15" fill="#0b6ec6" stroke="#cfe0f3" stroke-width="0.45"/>
<circle cx="478.45" cy="75.80" r="2.15" fill="#0b6ec6" stroke="#cfe0f3" stroke-width="0.45"/>
<circle cx="480.12" cy="75.60" r="2.15" fill="#0b6ec6" stroke="#cfe0f3" stroke-width="0.45"/>
<circle cx="481.78" cy="76.50" r="2.15" fill="#0b6ec6" stroke="#cfe0f3" stroke-width="0.45"/>
<circle cx="483.44" cy="73.60" r="2.15" fill="#0b6ec6" stroke="#cfe0f3" stroke-width="0.45"/>
<circle cx="485.11" cy="81.40" r="2.15" fill="#0b6ec6" stroke="#cfe0f3" stroke-width="0.45"/>
<circle cx="486.77" cy="68.80" r="2.15" fill="#0b6ec6" stroke="#cfe0f3" stroke-width="0.45"/>
<circle cx="488.44" cy="76.50" r="2.15" fill="#0b6ec6" stroke="#cfe0f3" stroke-width="0.45"/>
<circle cx="490.11" cy="76.80" r="2.15" fill="#0b6ec6" stroke="#cfe0f3" stroke-width="0.45"/>
<circle cx="491.77" cy="77.20" r="2.15" fill="#0b6ec6" stroke="#cfe0f3" stroke-width="0.45"/>
<circle cx="493.44" cy="72.10" r="2.15" fill="#0b6ec6" stroke="#cfe0f3" stroke-width="0.45"/>
<circle cx="495.10" cy="77.20" r="2.15" fill="#0b6ec6" stroke="#cfe0f3" stroke-width="0.45"/>
<circle cx="496.76" cy="71.20" r="2.15" fill="#0b6ec6" stroke="#cfe0f3" stroke-width="0.45"/>
<circle cx="498.43" cy="70.90" r="2.15" fill="#0b6ec6" stroke="#cfe0f3" stroke-width="0.45"/>
<circle cx="500.09" cy="61.30" r="2.15" fill="#0b6ec6" stroke="#cfe0f3" stroke-width="0.45"/>
<circle cx="501.76" cy="76.00" r="2.15" fill="#0b6ec6" stroke="#cfe0f3" stroke-width="0.45"/>
<circle cx="503.42" cy="80.20" r="2.15" fill="#0b6ec6" stroke="#cfe0f3" stroke-width="0.45"/>
<circle cx="505.09" cy="79.10" r="2.15" fill="#0b6ec6" stroke="#cfe0f3" stroke-width="0.45"/>
<circle cx="506.75" cy="71.20" r="2.15" fill="#0b6ec6" stroke="#cfe0f3" stroke-width="0.45"/>
<circle cx="508.42" cy="73.20" r="2.15" fill="#0b6ec6" stroke="#cfe0f3" stroke-width="0.45"/>
<circle cx="510.08" cy="74.20" r="2.15" fill="#0b6ec6" stroke="#cfe0f3" stroke-width="0.45"/>
<circle cx="511.75" cy="80.70" r="2.15" fill="#0b6ec6" stroke="#cfe0f3" stroke-width="0.45"/>
<circle cx="513.41" cy="77.20" r="2.15" fill="#0b6ec6" stroke="#cfe0f3" stroke-width="0.45"/>
<circle cx="515.08" cy="82.00" r="2.15" fill="#0b6ec6" stroke="#cfe0f3" stroke-width="0.45"/>
<circle cx="516.75" cy="80.50" r="2.15" fill="#0b6ec6" stroke="#cfe0f3" stroke-width="0.45"/>
<circle cx="518.41" cy="70.50" r="2.15" fill="#0b6ec6" stroke="#cfe0f3" stroke-width="0.45"/>
<circle cx="520.08" cy="72.90" r="2.15" fill="#0b6ec6" stroke="#cfe0f3" stroke-width="0.45"/>
<circle cx="521.74" cy="75.80" r="2.15" fill="#0b6ec6" stroke="#cfe0f3" stroke-width="0.45"/>
<circle cx="523.40" cy="72.10" r="2.15" fill="#0b6ec6" stroke="#cfe0f3" stroke-width="0.45"/>
<circle cx="525.07" cy="73.20" r="2.15" fill="#0b6ec6" stroke="#cfe0f3" stroke-width="0.45"/>
<circle cx="526.74" cy="69.20" r="2.15" fill="#0b6ec6" stroke="#cfe0f3" stroke-width="0.45"/>
<circle cx="528.40" cy="68.80" r="2.15" fill="#0b6ec6" stroke="#cfe0f3" stroke-width="0.45"/>
<circle cx="530.06" cy="76.80" r="2.15" fill="#0b6ec6" stroke="#cfe0f3" stroke-width="0.45"/>
<circle cx="531.73" cy="68.20" r="2.15" fill="#0b6ec6" stroke="#cfe0f3" stroke-width="0.45"/>
<circle cx="533.39" cy="74.10" r="2.15" fill="#0b6ec6" stroke="#cfe0f3" stroke-width="0.45"/>
<circle cx="535.06" cy="71.50" r="2.15" fill="#0b6ec6" stroke="#cfe0f3" stroke-width="0.45"/>
<circle cx="536.72" cy="76.90" r="2.15" fill="#0b6ec6" stroke="#cfe0f3" stroke-width="0.45"/>
<circle cx="538.39" cy="76.10" r="2.15" fill="#0b6ec6" stroke="#cfe0f3" stroke-width="0.45"/>
<circle cx="540.05" cy="76.50" r="2.15" fill="#0b6ec6" stroke="#cfe0f3" stroke-width="0.45"/>
<circle cx="541.72" cy="61.30" r="2.15" fill="#0b6ec6" stroke="#cfe0f3" stroke-width="0.45"/>
<circle cx="543.38" cy="72.50" r="2.15" fill="#0b6ec6" stroke="#cfe0f3" stroke-width="0.45"/>
<circle cx="545.05" cy="79.40" r="2.15" fill="#0b6ec6" stroke="#cfe0f3" stroke-width="0.45"/>
<circle cx="546.71" cy="69.00" r="2.15" fill="#0b6ec6" stroke="#cfe0f3" stroke-width="0.45"/>
<circle cx="548.38" cy="67.20" r="2.15" fill="#0b6ec6" stroke="#cfe0f3" stroke-width="0.45"/>
<circle cx="550.04" cy="62.90" r="2.15" fill="#0b6ec6" stroke="#cfe0f3" stroke-width="0.45"/>
<circle cx="551.71" cy="71.20" r="2.15" fill="#0b6ec6" stroke="#cfe0f3" stroke-width="0.45"/>
<circle cx="553.38" cy="75.80" r="2.15" fill="#0b6ec6" stroke="#cfe0f3" stroke-width="0.45"/>
<circle cx="555.04" cy="72.10" r="2.15" fill="#0b6ec6" stroke="#cfe0f3" stroke-width="0.45"/>
<circle cx="556.70" cy="75.60" r="2.15" fill="#0b6ec6" stroke="#cfe0f3" stroke-width="0.45"/>
<circle cx="558.37" cy="73.70" r="2.15" fill="#0b6ec6" stroke="#cfe0f3" stroke-width="0.45"/>
<circle cx="560.03" cy="75.60" r="2.15" fill="#0b6ec6" stroke="#cfe0f3" stroke-width="0.45"/>
<circle cx="561.70" cy="68.80" r="2.15" fill="#0b6ec6" stroke="#cfe0f3" stroke-width="0.45"/>
<circle cx="563.37" cy="78.70" r="2.15" fill="#0b6ec6" stroke="#cfe0f3" stroke-width="0.45"/>
<circle cx="565.03" cy="77.80" r="2.15" fill="#0b6ec6" stroke="#cfe0f3" stroke-width="0.45"/>
<circle cx="566.69" cy="73.20" r="2.15" fill="#0b6ec6" stroke="#cfe0f3" stroke-width="0.45"/>
<circle cx="568.36" cy="76.50" r="2.15" fill="#0b6ec6" stroke="#cfe0f3" stroke-width="0.45"/>
<circle cx="570.02" cy="66.20" r="2.15" fill="#0b6ec6" stroke="#cfe0f3" stroke-width="0.45"/>
<circle cx="571.69" cy="69.50" r="2.15" fill="#0b6ec6" stroke="#cfe0f3" stroke-width="0.45"/>
<circle cx="573.36" cy="76.80" r="2.15" fill="#0b6ec6" stroke="#cfe0f3" stroke-width="0.45"/>
<circle cx="575.02" cy="73.50" r="2.15" fill="#0b6ec6" stroke="#cfe0f3" stroke-width="0.45"/>
<circle cx="576.68" cy="67.00" r="2.15" fill="#0b6ec6" stroke="#cfe0f3" stroke-width="0.45"/>
<circle cx="578.35" cy="74.50" r="2.15" fill="#0b6ec6" stroke="#cfe0f3" stroke-width="0.45"/>
<circle cx="580.01" cy="70.30" r="2.15" fill="#0b6ec6" stroke="#cfe0f3" stroke-width="0.45"/>
<circle cx="581.68" cy="79.10" r="2.15" fill="#0b6ec6" stroke="#cfe0f3" stroke-width="0.45"/>
<circle cx="583.34" cy="71.60" r="2.15" fill="#0b6ec6" stroke="#cfe0f3" stroke-width="0.45"/>
<circle cx="585.01" cy="68.80" r="2.15" fill="#0b6ec6" stroke="#cfe0f3" stroke-width="0.45"/>
<circle cx="586.67" cy="74.00" r="2.15" fill="#0b6ec6" stroke="#cfe0f3" stroke-width="0.45"/>
<circle cx="588.34" cy="76.80" r="2.15" fill="#0b6ec6" stroke="#cfe0f3" stroke-width="0.45"/>
<circle cx="590.00" cy="69.60" r="2.15" fill="#0b6ec6" stroke="#cfe0f3" stroke-width="0.45"/>
<circle cx="591.67" cy="74.50" r="2.15" fill="#0b6ec6" stroke="#cfe0f3" stroke-width="0.45"/>
<circle cx="593.34" cy="70.90" r="2.15" fill="#0b6ec6" stroke="#cfe0f3" stroke-width="0.45"/>
<circle cx="595.00" cy="73.90" r="2.15" fill="#0b6ec6" stroke="#cfe0f3" stroke-width="0.45"/>
<circle cx="596.66" cy="76.80" r="2.15" fill="#0b6ec6" stroke="#cfe0f3" stroke-width="0.45"/>
<circle cx="598.33" cy="70.30" r="2.15" fill="#0b6ec6" stroke="#cfe0f3" stroke-width="0.45"/>
<circle cx="599.99" cy="76.80" r="2.15" fill="#0b6ec6" stroke="#cfe0f3" stroke-width="0.45"/>
<circle cx="601.66" cy="81.80" r="2.15" fill="#0b6ec6" stroke="#cfe0f3" stroke-width="0.45"/>
<circle cx="603.32" cy="76.10" r="2.15" fill="#0b6ec6" stroke="#cfe0f3" stroke-width="0.45"/>
<circle cx="604.99" cy="75.80" r="2.15" fill="#0b6ec6" stroke="#cfe0f3" stroke-width="0.45"/>
<circle cx="606.65" cy="76.10" r="2.15" fill="#0b6ec6" stroke="#cfe0f3" stroke-width="0.45"/>
<circle cx="608.32" cy="76.50" r="2.15" fill="#0b6ec6" stroke="#cfe0f3" stroke-width="0.45"/>
<circle cx="609.98" cy="79.50" r="2.15" fill="#0b6ec6" stroke="#cfe0f3" stroke-width="0.45"/>
<circle cx="611.65" cy="75.60" r="2.15" fill="#0b6ec6" stroke="#cfe0f3" stroke-width="0.45"/>
<circle cx="613.31" cy="79.20" r="2.15" fill="#0b6ec6" stroke="#cfe0f3" stroke-width="0.45"/>
<circle cx="614.98" cy="78.50" r="2.15" fill="#0b6ec6" stroke="#cfe0f3" stroke-width="0.45"/>
<circle cx="616.64" cy="66.30" r="2.15" fill="#0b6ec6" stroke="#cfe0f3" stroke-width="0.45"/>
<circle cx="618.31" cy="74.90" r="2.15" fill="#0b6ec6" stroke="#cfe0f3" stroke-width="0.45"/>
<circle cx="619.97" cy="74.50" r="2.15" fill="#0b6ec6" stroke="#cfe0f3" stroke-width="0.45"/>
<circle cx="621.64" cy="77.60" r="2.15" fill="#0b6ec6" stroke="#cfe0f3" stroke-width="0.45"/>
<circle cx="623.30" cy="71.60" r="2.15" fill="#0b6ec6" stroke="#cfe0f3" stroke-width="0.45"/>
<circle cx="624.97" cy="77.20" r="2.15" fill="#0b6ec6" stroke="#cfe0f3" stroke-width="0.45"/>
<circle cx="626.63" cy="76.50" r="2.15" fill="#0b6ec6" stroke="#cfe0f3" stroke-width="0.45"/>
<circle cx="628.30" cy="78.70" r="2.15" fill="#0b6ec6" stroke="#cfe0f3" stroke-width="0.45"/>
<text x="484.00" y="55.30" font-size="12.5" text-anchor="start" >4.26%</text>
<text x="550.00" y="134.80" font-size="12.5" text-anchor="start" >391.35 kbps</text>
<text x="507.30" y="170.10" font-size="12.5" text-anchor="start" >142.94 kbps</text>
<ellipse cx="465.2" cy="71.5" rx="12.6" ry="14.2" fill="none" stroke="#000" stroke-width="2"/>
<ellipse cx="599.1" cy="165.4" rx="12.4" ry="26.6" fill="none" stroke="#000" stroke-width="2"/>
<line x1="453.00" y1="64.40" x2="435.00" y2="64.40" stroke="#000" stroke-width="2.2"/>
<polygon points="429.0,64.4 436.2,60.9 436.2,67.9" fill="#000"/>
<line x1="611.50" y1="165.80" x2="624.00" y2="165.80" stroke="#000" stroke-width="2.2"/>
<polygon points="629.2,165.8 622.6,162.6 622.6,169.0" fill="#000"/>
<rect x="431.5" y="89.5" width="113.3" height="49" fill="#fff" stroke="#595959" stroke-width="1"/>
<circle cx="440.9" cy="99.2" r="3.6" fill="#0b6ec6"/>
<polygon points="440.90,109.90 445.10,114.10 440.90,118.30 436.70,114.10" fill="#00b050"/>
<polygon points="440.90,124.50 445.10,131.80 436.70,131.80" fill="#ff0000"/>
<text x="451.50" y="103.40" font-size="11" text-anchor="start" >QBER</text>
<text x="451.50" y="118.40" font-size="11" text-anchor="start" >Sifted Key Rate</text>
<text x="451.50" y="132.80" font-size="11" text-anchor="start" >Secure Key Rate</text>
</svg></body></html>
